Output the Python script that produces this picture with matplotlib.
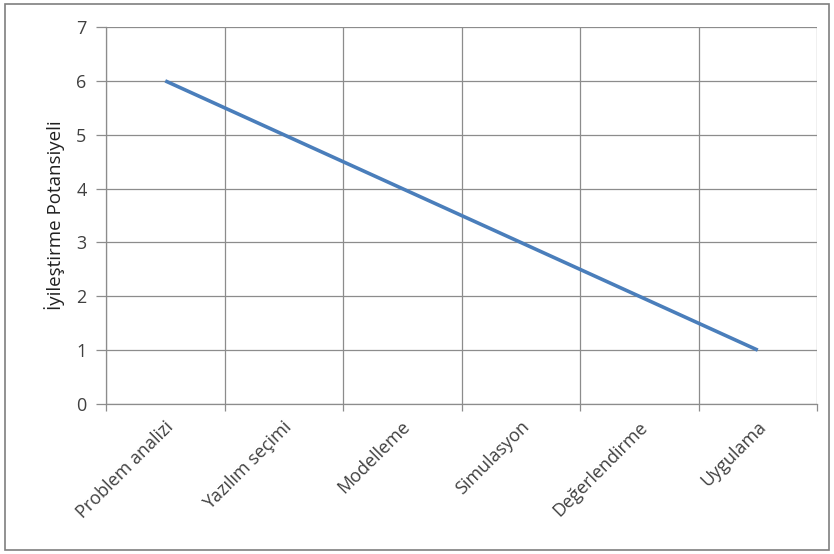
import matplotlib
matplotlib.use("Agg")
import matplotlib.pyplot as plt
from matplotlib.patches import Rectangle
import matplotlib.transforms as mtransforms
import numpy as np

categories = ["Problem analizi", "Yazılım seçimi", "Modelleme", "Simulasyon", "Değerlendirme", "Uygulama"]
values = [6, 5, 4, 3, 2, 1]
y_ticks = [0, 1, 2, 3, 4, 5, 6, 7]
y_label = "İyileştirme Potansiyeli"

plt.rcParams['font.family'] = ['Open Sans', 'DejaVu Sans']
text_color = "#404040"
grid_color = "#8c8c8c"

fig = plt.figure(figsize=(8.34, 5.54), dpi=100)
fig.patches.append(Rectangle((5/834, 4/554), 824/834, 546/554, transform=fig.transFigure,
                             fill=False, edgecolor="#7f7f7f", linewidth=1.2))
ax = fig.add_axes([106/834, 1 - 404/554, (817 - 106)/834, (404 - 27)/554])

x = np.arange(len(categories))
ax.plot(x, values, color="#4A7EBB", linewidth=2.6, solid_capstyle="butt")

ax.set_xlim(-0.5, len(categories) - 0.5)
ax.set_ylim(0, 7)
ax.set_yticks(y_ticks)
ax.set_xticks(x)
ax.set_xticks(np.arange(-0.5, len(categories), 1.0), minor=True)
ax.set_xticklabels(categories, rotation=45, ha="right", rotation_mode="anchor",
                   color=text_color, fontsize=13)
ax.tick_params(axis="x", which="major", length=0, pad=10)
ax.tick_params(axis="x", which="minor", length=5, color=grid_color, width=0.9)
ax.tick_params(axis="y", length=7, color=grid_color, width=0.9, labelcolor=text_color,
               labelsize=13, pad=7)
for t in ax.get_xticklabels():
    t.set_transform(t.get_transform() + mtransforms.ScaledTranslation(-1/100, 0, fig.dpi_scale_trans))

ax.grid(True, axis="y", which="major", color=grid_color, linewidth=0.9)
ax.grid(True, axis="x", which="minor", color=grid_color, linewidth=0.9)
ax.grid(False, axis="x", which="major")
ax.set_axisbelow(True)
for s in ["top", "right"]:
    ax.spines[s].set_visible(False)
for s in ["left", "bottom"]:
    ax.spines[s].set_color(grid_color)
    ax.spines[s].set_linewidth(0.9)

ax.set_ylabel(y_label, color="#202020", fontsize=13.5, labelpad=8)

fig.savefig("out.png", dpi=100, facecolor="white")
